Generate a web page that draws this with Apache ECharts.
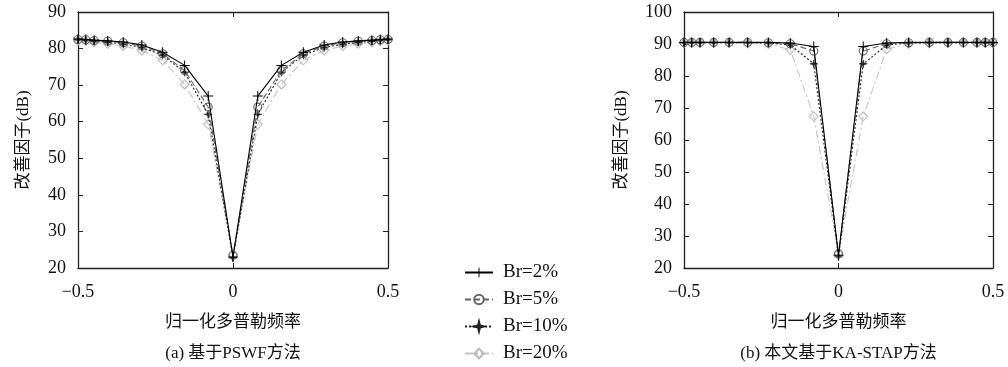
<!DOCTYPE html>
<html>
<head>
<meta charset="utf-8">
<script src="https://cdn.jsdelivr.net/npm/echarts@6/dist/echarts.min.js"></script>
<style>
  html, body { margin: 0; padding: 0; background: #fff; }
  #chart { width: 1008px; height: 367px; }
</style>
</head>
<body>
<div id="chart"></div>
<script>
// normalised doppler frequency (same grid for both panels)
var freq = [-0.5, -0.475, -0.448, -0.404, -0.354, -0.294, -0.227, -0.156, -0.08, 0,
            0.08, 0.156, 0.227, 0.294, 0.354, 0.404, 0.448, 0.475, 0.5];

var seriesNames = ['Br=2%', 'Br=5%', 'Br=10%', 'Br=20%'];

// (a) PSWF
var pswfBr2  = [82.6, 82.5, 82.3, 82.1, 81.8, 81.0, 79.0, 75.4, 67.0, 23.0, 67.0, 75.4, 79.0, 81.0, 81.8, 82.1, 82.3, 82.5, 82.6];
var pswfBr5  = [82.5, 82.4, 82.2, 82.0, 81.6, 80.7, 78.6, 74.0, 64.0, 23.5, 64.0, 74.0, 78.6, 80.7, 81.6, 82.0, 82.2, 82.4, 82.5];
var pswfBr10 = [82.4, 82.2, 82.0, 81.7, 81.2, 80.3, 78.2, 73.5, 62.0, 22.8, 62.0, 73.5, 78.2, 80.3, 81.2, 81.7, 82.0, 82.2, 82.4];
var pswfBr20 = [82.2, 82.0, 81.7, 81.3, 80.7, 79.5, 76.8, 70.2, 59.3, 23.5, 59.3, 70.2, 76.8, 79.5, 80.7, 81.3, 81.7, 82.0, 82.2];

// (b) KA-STAP
var kaBr2  = [90.5, 90.5, 90.5, 90.5, 90.5, 90.5, 90.5, 90.3, 89.2, 24.0, 89.2, 90.3, 90.5, 90.5, 90.5, 90.5, 90.5, 90.5, 90.5];
var kaBr5  = [90.5, 90.5, 90.5, 90.5, 90.5, 90.5, 90.4, 90.1, 87.8, 24.5, 87.8, 90.1, 90.4, 90.5, 90.5, 90.5, 90.5, 90.5, 90.5];
var kaBr10 = [90.4, 90.4, 90.4, 90.4, 90.4, 90.4, 90.3, 89.7, 83.8, 23.5, 83.8, 89.7, 90.3, 90.4, 90.4, 90.4, 90.4, 90.4, 90.4];
var kaBr20 = [90.3, 90.3, 90.3, 90.3, 90.3, 90.2, 90.0, 88.2, 67.4, 24.5, 67.4, 88.4, 90.0, 90.2, 90.3, 90.3, 90.3, 90.3, 90.3];

var captions = ['(a) 基于PSWF方法', '(b) 本文基于KA-STAP方法'];

var serif = '"Liberation Serif", "Noto Sans CJK SC", serif';
var axisColor = '#222';

// panel boxes
var panels = [
  { left: 78, top: 12, width: 310, height: 256 },
  { left: 684, top: 12, width: 309, height: 256 }
];

// marker / line look for each Br value
var styles = [
  { symbol: 'path://M4.5,0H5.5V4.5H10V5.5H5.5V10H4.5V5.5H0V4.5H4.5Z', size: 10,
    color: '#000', border: '#000', bw: 0, line: '#000', type: 'solid' },
  { symbol: 'circle', size: 8,
    color: 'rgba(0,0,0,0)', border: '#666', bw: 1.1, line: '#666', type: [6, 3] },
  { symbol: 'path://M5,0L6,4L10,5L6,6L5,10L4,6L0,5L4,4Z', size: 8,
    color: '#222', border: '#222', bw: 0.6, line: '#222', type: [2, 2] },
  { symbol: 'diamond', size: 9,
    color: 'rgba(0,0,0,0)', border: '#bbb', bw: 1.1, line: '#c4c4c4', type: [8, 3, 2, 3] }
];

function pairs(vals) {
  return freq.map(function (f, i) { return [f, vals[i]]; });
}

function fmtX(v) {
  if (v < 0) return '\u2212' + Math.abs(v);
  return String(v);
}

function makeSeries(valsList, axisIdx) {
  // draw light ones first so the dark lines sit on top
  var out = [];
  for (var k = valsList.length - 1; k >= 0; k--) {
    var s = styles[k];
    out.push({
      name: seriesNames[k],
      type: 'line',
      xAxisIndex: axisIdx * 2,
      yAxisIndex: axisIdx * 2,
      data: pairs(valsList[k]),
      symbol: s.symbol,
      symbolSize: s.size,
      showAllSymbol: true,
      itemStyle: { color: s.color, borderColor: s.border, borderWidth: s.bw },
      lineStyle: { color: s.line, width: 1.1, type: s.type },
      z: 10 - k
    });
  }
  return out;
}

function bottomX(gridIndex) {
  return {
    type: 'value', gridIndex: gridIndex, position: 'bottom',
    min: -0.5, max: 0.5, interval: 0.5,
    name: '归一化多普勒频率', nameLocation: 'middle', nameGap: 46,
    nameTextStyle: { color: '#111', fontSize: 17, fontFamily: serif },
    axisLine: { onZero: false, lineStyle: { color: axisColor, width: 1.3 } },
    axisTick: { inside: true, length: 5, lineStyle: { color: axisColor } },
    axisLabel: { formatter: fmtX, margin: 15, color: '#111', fontSize: 18, fontFamily: serif },
    splitLine: { show: false }
  };
}

function topX(gridIndex) {
  return {
    type: 'value', gridIndex: gridIndex, position: 'top',
    min: -0.5, max: 0.5, interval: 0.5,
    axisLine: { onZero: false, lineStyle: { color: axisColor, width: 1.3 } },
    axisTick: { inside: true, length: 5, lineStyle: { color: axisColor } },
    axisLabel: { show: false },
    splitLine: { show: false }
  };
}

function leftY(gridIndex, max, gap) {
  return {
    type: 'value', gridIndex: gridIndex, position: 'left',
    min: 20, max: max, interval: 10,
    name: '改善因子(dB)', nameLocation: 'middle', nameGap: gap, nameRotate: 90,
    nameTextStyle: { color: '#111', fontSize: 17, fontFamily: serif },
    axisLine: { onZero: false, lineStyle: { color: axisColor, width: 1.3 } },
    axisTick: { inside: true, length: 5, lineStyle: { color: axisColor } },
    axisLabel: { margin: 12, color: '#111', fontSize: 18, fontFamily: serif },
    splitLine: { show: false }
  };
}

function rightY(gridIndex, max) {
  return {
    type: 'value', gridIndex: gridIndex, position: 'right',
    min: 20, max: max, interval: 10,
    axisLine: { onZero: false, lineStyle: { color: axisColor, width: 1.3 } },
    axisTick: { inside: true, length: 5, lineStyle: { color: axisColor } },
    axisLabel: { show: false },
    splitLine: { show: false }
  };
}

var chart = echarts.init(document.getElementById('chart'), null, { renderer: 'canvas' });

chart.setOption({
  animation: false,
  backgroundColor: '#fff',
  grid: panels,
  xAxis: [bottomX(0), topX(0), bottomX(1), topX(1)],
  yAxis: [leftY(0, 90, 46), rightY(0, 90), leftY(1, 100, 54), rightY(1, 100)],
  legend: {
    orient: 'vertical',
    left: 464, top: 263, height: 140, padding: 0,
    itemWidth: 28, itemHeight: 12, itemGap: 8,
    data: seriesNames,
    textStyle: { color: '#111', fontSize: 19, lineHeight: 16, fontFamily: serif, padding: [0, 0, 0, 5] }
  },
  // captions under each panel
  graphic: captions.map(function (t, i) {
    return {
      type: 'text',
      x: panels[i].left + panels[i].width / 2,
      y: 345,
      style: { text: t, textAlign: 'center', fill: '#111', fontSize: 17, fontFamily: serif }
    };
  }),
  series: makeSeries([pswfBr2, pswfBr5, pswfBr10, pswfBr20], 0)
    .concat(makeSeries([kaBr2, kaBr5, kaBr10, kaBr20], 1))
});
</script>
</body>
</html>
